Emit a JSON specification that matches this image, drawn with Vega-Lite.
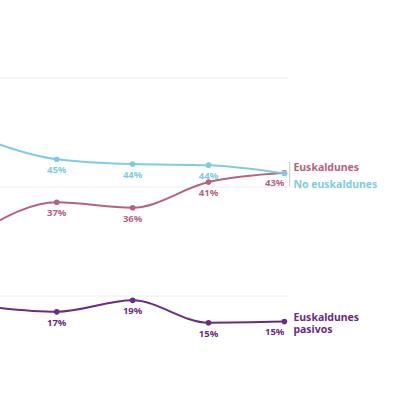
{
  "$schema": "https://vega.github.io/schema/vega-lite/v6.json",
  "width": 400,
  "height": 400,
  "padding": 0,
  "autosize": "none",
  "background": "white",
  "config": {"view": {"stroke": null}, "font": "Noto Sans"},
  "datasets": {
    "series": [
      {"serie": "Euskaldunes pasivos", "i": 0, "v": 18.2, "label": ""},
      {"serie": "Euskaldunes pasivos", "i": 1, "v": 17.1, "label": "17%"},
      {"serie": "Euskaldunes pasivos", "i": 2, "v": 19.2, "label": "19%"},
      {"serie": "Euskaldunes pasivos", "i": 3, "v": 15.1, "label": "15%"},
      {"serie": "Euskaldunes pasivos", "i": 4, "v": 15.3, "label": "15%"},
      {"serie": "Euskaldunes", "i": 0, "v": 32.0, "label": ""},
      {"serie": "Euskaldunes", "i": 1, "v": 37.2, "label": "37%"},
      {"serie": "Euskaldunes", "i": 2, "v": 36.2, "label": "36%"},
      {"serie": "Euskaldunes", "i": 3, "v": 40.9, "label": "41%"},
      {"serie": "Euskaldunes", "i": 4, "v": 42.6, "label": "43%"},
      {"serie": "No euskaldunes", "i": 0, "v": 49.0, "label": ""},
      {"serie": "No euskaldunes", "i": 1, "v": 45.1, "label": "45%"},
      {"serie": "No euskaldunes", "i": 2, "v": 44.2, "label": "44%"},
      {"serie": "No euskaldunes", "i": 3, "v": 44.0, "label": "44%"},
      {"serie": "No euskaldunes", "i": 4, "v": 42.5, "label": ""}
    ],
    "grid": [
      {"g": 20, "from": 0, "to": 4.047},
      {"g": 40, "from": 0, "to": 4.047},
      {"g": 60, "from": 0, "to": 4.047}
    ],
    "bracket": [
      {"top": 44.6, "bottom": 40.1, "at": 4.07}
    ]
  },
  "layer": [
    {
      "data": {"name": "grid"},
      "mark": {"type": "rule", "color": "#ececec", "strokeWidth": 1, "clip": true},
      "encoding": {
        "x": {"field": "from", "type": "quantitative", "scale": {"domain": [0.253, 5.523], "nice": false, "zero": false}, "axis": null},
        "x2": {"field": "to"},
        "y": {"field": "g", "type": "quantitative", "scale": {"domain": [0.92, 74.31], "nice": false, "zero": false}, "axis": null}
      }
    },
    {
      "data": {"name": "bracket"},
      "mark": {"type": "rule", "color": "#c8c8c8", "strokeWidth": 1},
      "encoding": {
        "x": {"field": "at", "type": "quantitative"},
        "y": {"field": "top", "type": "quantitative"},
        "y2": {"field": "bottom"}
      }
    },
    {
      "data": {"name": "series"},
      "layer": [
        {
          "mark": {"type": "line", "interpolate": "monotone", "strokeWidth": 2, "clip": true},
          "encoding": {
            "x": {"field": "i", "type": "quantitative"},
            "y": {"field": "v", "type": "quantitative"},
            "color": {
              "field": "serie", "type": "nominal", "legend": null,
              "scale": {"domain": ["No euskaldunes", "Euskaldunes", "Euskaldunes pasivos"], "range": ["#7ecbe2", "#b5647b", "#6b2c80"]}
            }
          }
        },
        {
          "mark": {"type": "circle", "size": 32, "opacity": 1, "clip": true},
          "encoding": {
            "x": {"field": "i", "type": "quantitative"},
            "y": {"field": "v", "type": "quantitative"},
            "color": {"field": "serie", "type": "nominal", "legend": null}
          }
        },
        {
          "transform": [{"filter": "datum.i < 4 && datum.label != ''"}],
          "mark": {"type": "text", "dy": 11, "fontSize": 9.5, "fontWeight": "bold", "baseline": "middle", "align": "center"},
          "encoding": {
            "x": {"field": "i", "type": "quantitative"},
            "y": {"field": "v", "type": "quantitative"},
            "text": {"field": "label"},
            "color": {"field": "serie", "type": "nominal", "legend": null}
          }
        },
        {
          "transform": [{"filter": "datum.i == 4 && datum.label != ''"}],
          "mark": {"type": "text", "dy": 10, "dx": 0, "fontSize": 9.5, "fontWeight": "bold", "baseline": "middle", "align": "right"},
          "encoding": {
            "x": {"field": "i", "type": "quantitative"},
            "y": {"field": "v", "type": "quantitative"},
            "text": {"field": "label"},
            "color": {"field": "serie", "type": "nominal", "legend": null}
          }
        },
        {
          "transform": [{"filter": "datum.i == 4 && datum.serie == 'Euskaldunes'"}],
          "mark": {"type": "text", "dx": 9, "dy": -5, "fontSize": 10.5, "fontWeight": "bold", "baseline": "middle", "align": "left"},
          "encoding": {
            "x": {"field": "i", "type": "quantitative"},
            "y": {"field": "v", "type": "quantitative"},
            "text": {"field": "serie"},
            "color": {"field": "serie", "type": "nominal", "legend": null}
          }
        },
        {
          "transform": [{"filter": "datum.i == 4 && datum.serie == 'No euskaldunes'"}],
          "mark": {"type": "text", "dx": 9, "dy": 12, "fontSize": 10.5, "fontWeight": "bold", "baseline": "middle", "align": "left"},
          "encoding": {
            "x": {"field": "i", "type": "quantitative"},
            "y": {"field": "v", "type": "quantitative"},
            "text": {"field": "serie"},
            "color": {"field": "serie", "type": "nominal", "legend": null}
          }
        },
        {
          "transform": [
            {"filter": "datum.i == 4 && datum.serie == 'Euskaldunes pasivos'"}
          ],
          "mark": {"type": "text", "dx": 9, "dy": -4, "fontSize": 10.5, "fontWeight": "bold", "baseline": "middle", "align": "left", "lineHeight": 12},
          "encoding": {
            "x": {"field": "i", "type": "quantitative"},
            "y": {"field": "v", "type": "quantitative"},
            "text": {"value": ["Euskaldunes", "pasivos"]},
            "color": {"field": "serie", "type": "nominal", "legend": null}
          }
        }
      ]
    }
  ]
}
